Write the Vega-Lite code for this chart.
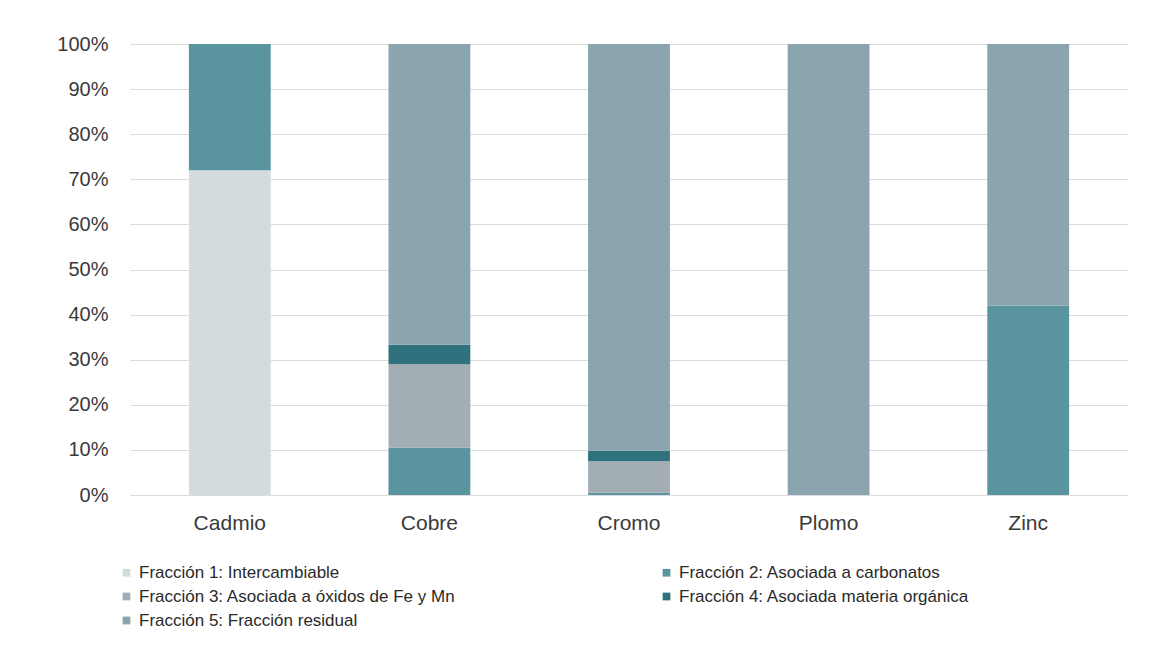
{
  "$schema": "https://vega.github.io/schema/vega-lite/v6.json",
  "width": 998,
  "height": 451,
  "autosize": {"type": "none"},
  "padding": {"left": 130, "top": 44, "right": 33, "bottom": 153},
  "background": "white",
  "config": {"view": {"stroke": null}, "font": "Liberation Sans"},
  "data": {
    "values": [
      {"metal": "Cadmio", "fraccion": "Fracción 1: Intercambiable", "pct": 72},
      {"metal": "Cadmio", "fraccion": "Fracción 2: Asociada a carbonatos", "pct": 28},
      {"metal": "Cobre", "fraccion": "Fracción 2: Asociada a carbonatos", "pct": 10.5},
      {"metal": "Cobre", "fraccion": "Fracción 3: Asociada a óxidos de Fe y Mn", "pct": 18.5},
      {"metal": "Cobre", "fraccion": "Fracción 4: Asociada materia orgánica", "pct": 4.3},
      {"metal": "Cobre", "fraccion": "Fracción 5: Fracción residual", "pct": 66.7},
      {"metal": "Cromo", "fraccion": "Fracción 2: Asociada a carbonatos", "pct": 0.5},
      {"metal": "Cromo", "fraccion": "Fracción 3: Asociada a óxidos de Fe y Mn", "pct": 7},
      {"metal": "Cromo", "fraccion": "Fracción 4: Asociada materia orgánica", "pct": 2.3},
      {"metal": "Cromo", "fraccion": "Fracción 5: Fracción residual", "pct": 90.2},
      {"metal": "Plomo", "fraccion": "Fracción 5: Fracción residual", "pct": 100},
      {"metal": "Zinc", "fraccion": "Fracción 2: Asociada a carbonatos", "pct": 42},
      {"metal": "Zinc", "fraccion": "Fracción 5: Fracción residual", "pct": 58}
    ]
  },
  "mark": {"type": "bar"},
  "encoding": {
    "x": {
      "field": "metal",
      "type": "nominal",
      "sort": ["Cadmio", "Cobre", "Cromo", "Plomo", "Zinc"],
      "scale": {"paddingInner": 0.59, "paddingOuter": 0.295},
      "axis": {
        "title": null,
        "labelAngle": 0,
        "labelFontSize": 21,
        "labelColor": "#3a3a3a",
        "ticks": false,
        "domain": false,
        "labelPadding": 17
      }
    },
    "y": {
      "field": "pct",
      "type": "quantitative",
      "stack": "zero",
      "scale": {"domain": [0, 100]},
      "axis": {
        "title": null,
        "values": [0, 10, 20, 30, 40, 50, 60, 70, 80, 90, 100],
        "labelExpr": "datum.value + '%'",
        "labelFontSize": 20,
        "labelColor": "#3a3a3a",
        "labelPadding": 22,
        "grid": true,
        "gridColor": "#dcdcdc",
        "ticks": false,
        "domain": false
      }
    },
    "order": {"field": "fraccion", "type": "nominal", "sort": "ascending"},
    "color": {
      "field": "fraccion",
      "type": "nominal",
      "scale": {
        "domain": [
          "Fracción 1: Intercambiable",
          "Fracción 2: Asociada a carbonatos",
          "Fracción 3: Asociada a óxidos de Fe y Mn",
          "Fracción 4: Asociada materia orgánica",
          "Fracción 5: Fracción residual"
        ],
        "range": ["#d2dcdf", "#5a959f", "#a3aeb4", "#2f717c", "#8aa5ad"]
      },
      "legend": {
        "title": null,
        "orient": "none",
        "legendX": -12,
        "legendY": 520,
        "direction": "horizontal",
        "columns": 2,
        "columnPadding": 202,
        "rowPadding": 6,
        "symbolType": "square",
        "symbolSize": 60,
        "symbolStrokeWidth": 0,
        "labelFontSize": 17,
        "labelColor": "#2a2a2a",
        "labelOffset": 4,
        "labelLimit": 500
      }
    }
  }
}
